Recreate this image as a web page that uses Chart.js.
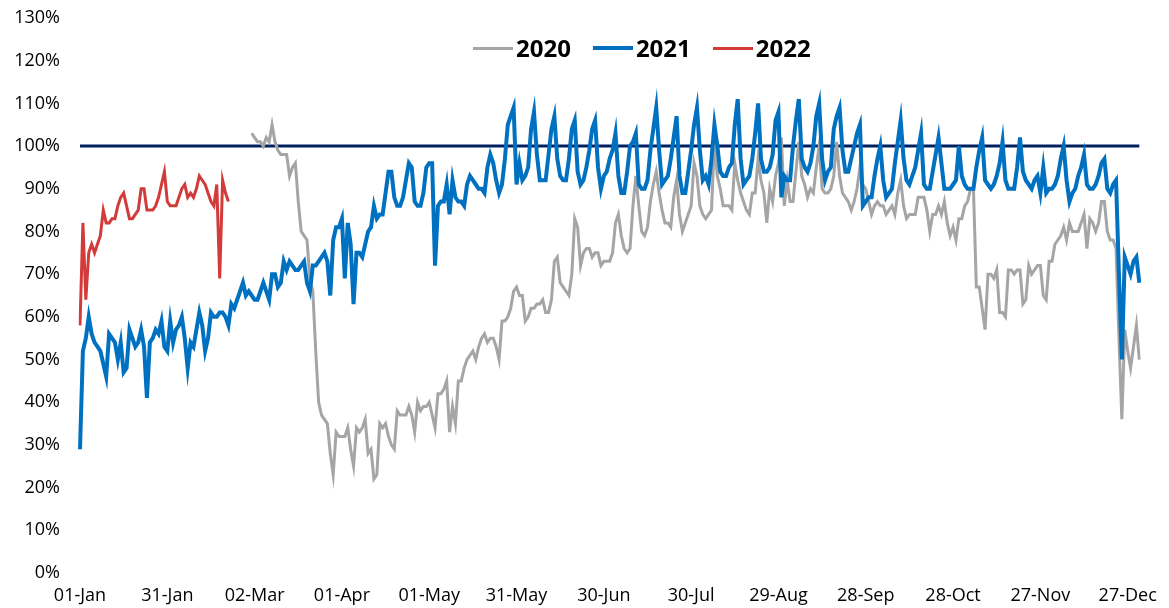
<!DOCTYPE html>
<html>
<head>
<meta charset="utf-8">
<script src="https://cdn.jsdelivr.net/npm/chart.js@4/dist/chart.umd.min.js"></script>
<style>
  body { margin: 0; background: #fff; }
  #wrap { width: 1169px; height: 608px; position: relative; }
  #legend {
    position: absolute; left: 473px; top: 33px; height: 30px;
    display: flex; align-items: center; gap: 22px;
    font: bold 24px 'Open Sans', sans-serif; color: #000; line-height: 1;
  }
  #legend .item { display: flex; align-items: center; }
  #legend .swatch { display: inline-block; width: 40px; margin-right: 3px; }
</style>
</head>
<body>
<div id="wrap"><canvas id="occChart"></canvas><div id="legend"></div></div>
<script>
// daily occupancy, % of 2019 level
const monthNames = ['Jan', 'Feb', 'Mar', 'Apr', 'May', 'Jun', 'Jul', 'Aug', 'Sep', 'Oct', 'Nov', 'Dec'];
const monthDays = [31, 28, 31, 30, 31, 30, 31, 31, 30, 31, 30, 31];
const tickLabels = ['01-Jan', '31-Jan', '02-Mar', '01-Apr', '01-May', '31-May', '30-Jun',
  '30-Jul', '29-Aug', '28-Sep', '28-Oct', '27-Nov', '27-Dec'];
const seriesNames = ['2020', '2021', '2022'];
const targetLevel = 100;

const values2020 = [
  null, null, null, null, null, null, null, null, null, null,
  null, null, null, null, null, null, null, null, null, null,
  null, null, null, null, null, null, null, null, null, null,
  null, null, null, null, null, null, null, null, null, null,
  null, null, null, null, null, null, null, null, null, null,
  null, null, null, null, null, null, null, null, null, 103,
  102, 101, 101, 100, 102, 101, 105, 101, 99, 98,
  98, 98, 93, 95, 96, 87, 80, 79, 78, 69,
  66, 52, 40, 37, 36, 35, 28, 23, 33, 32,
  32, 32, 34, 29, 25, 34, 33, 34, 36, 28,
  29, 22, 23, 35, 34, 35, 32, 30, 29, 38,
  37, 37, 37, 39, 37, 33, 40, 38, 39, 39,
  40, 37, 34, 42, 42, 43, 45, 33, 39, 35,
  45, 45, 48, 50, 51, 52, 50, 53, 55, 56,
  54, 55, 55, 53, 50, 59, 59, 60, 62, 66,
  67, 65, 65, 59, 60, 62, 62, 63, 63, 64,
  61, 61, 64, 73, 74, 68, 67, 66, 65, 70,
  83, 81, 72, 75, 76, 76, 74, 75, 75, 72,
  73, 73, 73, 75, 82, 84, 79, 76, 75, 76,
  86, 93, 86, 80, 79, 81, 87, 91, 94, 89,
  85, 82, 82, 81, 88, 92, 84, 80, 82, 84,
  86, 96, 93, 86, 84, 83, 84, 85, 101, 93,
  90, 86, 86, 86, 85, 96, 92, 89, 87, 85,
  84, 89, 89, 97, 92, 89, 82, 90, 87, 93,
  96, 102, 86, 92, 87, 87, 94, 101, 93, 91,
  88, 90, 89, 95, 100, 90, 89, 89, 90, 93,
  101, 93, 89, 88, 87, 85, 87, 90, 95, 91,
  90, 87, 84, 86, 87, 86, 86, 84, 85, 86,
  84, 89, 92, 86, 83, 84, 84, 84, 88, 88,
  88, 85, 80, 84, 84, 86, 84, 87, 82, 79,
  81, 78, 83, 83, 86, 87, 90, 90, 67, 67,
  62, 57, 70, 70, 69, 71, 61, 61, 60, 71,
  71, 70, 71, 71, 63, 64, 72, 70, 71, 72,
  72, 65, 64, 73, 73, 77, 78, 79, 81, 78,
  82, 80, 80, 80, 82, 84, 76, 83, 82, 80,
  82, 87, 87, 80, 78, 78, 76, 55, 36, 57,
  52, 48, 53, 58, 50
];

const values2021 = [
  29, 52, 55, 60, 56, 54, 53, 52, 49, 46,
  56, 55, 54, 50, 54, 47, 48, 57, 55, 53,
  54, 57, 53, 41, 54, 55, 57, 56, 59, 53,
  52, 59, 54, 57, 58, 60, 55, 48, 54, 53,
  57, 61, 58, 52, 55, 61, 60, 60, 61, 61,
  60, 58, 63, 62, 64, 66, 68, 65, 66, 65,
  64, 64, 66, 68, 66, 64, 70, 70, 67, 68,
  73, 71, 73, 72, 71, 71, 72, 73, 68, 66,
  72, 72, 73, 74, 75, 73, 65, 78, 81, 81,
  83, 69, 82, 77, 63, 75, 75, 74, 77, 80,
  81, 86, 83, 84, 84, 89, 94, 94, 88, 86,
  86, 88, 92, 96, 95, 87, 86, 86, 89, 95,
  96, 96, 72, 86, 87, 87, 91, 84, 92, 88,
  87, 87, 86, 91, 93, 92, 91, 90, 90, 89,
  95, 98, 96, 92, 89, 91, 97, 105, 107, 109,
  91, 96, 92, 93, 95, 104, 108, 98, 92, 92,
  92, 98, 104, 107, 97, 93, 92, 92, 97, 104,
  106, 94, 91, 92, 95, 99, 104, 106, 95, 90,
  93, 94, 97, 99, 103, 93, 89, 89, 94, 100,
  101, 103, 91, 90, 90, 92, 99, 104, 109, 99,
  91, 92, 93, 97, 102, 107, 93, 89, 89, 94,
  99, 105, 109, 99, 92, 93, 91, 97, 105, 100,
  94, 93, 93, 95, 96, 105, 111, 97, 91, 92,
  93, 97, 103, 110, 97, 94, 94, 95, 98, 106,
  108, 88, 93, 92, 92, 100, 106, 111, 97, 95,
  94, 96, 100, 107, 110, 97, 92, 94, 95, 104,
  107, 109, 99, 94, 94, 97, 100, 103, 105, 86,
  87, 88, 88, 93, 97, 100, 92, 88, 89, 90,
  96, 101, 106, 97, 92, 91, 93, 95, 99, 103,
  91, 90, 90, 94, 98, 102, 96, 90, 90, 90,
  91, 92, 100, 93, 91, 90, 90, 90, 95, 99,
  102, 92, 91, 90, 91, 93, 96, 101, 92, 90,
  90, 90, 95, 102, 94, 92, 91, 90, 92, 93,
  89, 95, 89, 90, 90, 91, 93, 97, 100, 92,
  87, 89, 90, 93, 95, 98, 91, 90, 90, 91,
  93, 96, 97, 90, 89, 91, 92, 70, 50, 74,
  72, 70, 73, 74, 68
];

const values2022 = [
  58, 82, 64, 75, 77, 75, 77, 79, 85, 82,
  82, 83, 83, 86, 88, 89, 86, 83, 83, 84,
  85, 90, 90, 85, 85, 85, 86, 88, 91, 94,
  87, 86, 86, 86, 88, 90, 91, 88, 89, 88,
  90, 93, 92, 91, 89, 87, 86, 91, 69, 92,
  89, 87
];

// one label per day of the year
const days = [];
monthDays.forEach((n, m) => {
  for (let d = 1; d <= n; d++) {
    days.push(String(d).padStart(2, '0') + '-' + monthNames[m]);
  }
});

// 100% reference line, drawn through the y scale
const targetLine = {
  id: 'targetLine',
  beforeDatasetsDraw(chart) {
    const { ctx, chartArea, scales } = chart;
    const y = scales.y.getPixelForValue(targetLevel);
    ctx.save();
    ctx.strokeStyle = '#002060';
    ctx.lineWidth = 3;
    ctx.beginPath();
    ctx.moveTo(chartArea.left, y);
    ctx.lineTo(chartArea.right, y);
    ctx.stroke();
    ctx.restore();
  }
};

const tickFont = { family: 'Open Sans', size: 18 };

const occChart = new Chart(document.getElementById('occChart'), {
  type: 'line',
  data: {
    labels: days,
    datasets: [{
        label: seriesNames[0],
        data: values2020,
        borderColor: '#a5a5a5',
        backgroundColor: '#a5a5a5',
        borderWidth: 3,
        order: 3
      },
      {
        label: seriesNames[1],
        data: values2021,
        borderColor: '#0070c0',
        backgroundColor: '#0070c0',
        borderWidth: 4,
        order: 2
      },
      {
        label: seriesNames[2],
        data: values2022,
        borderColor: '#d33a3a',
        backgroundColor: '#d33a3a',
        borderWidth: 3,
        order: 1
      }
    ]
  },
  options: {
    responsive: true,
    maintainAspectRatio: false,
    animation: false,
    elements: {
      point: { radius: 0 },
      line: { tension: 0 }
    },
    layout: {
      padding: { left: 0, right: 22, top: 18, bottom: 0 }
    },
    scales: {
      x: {
        grid: { display: false, drawTicks: false },
        border: { display: false },
        afterFit: s => { s.height = 35; },
        ticks: {
          autoSkip: false,
          maxRotation: 0,
          padding: 12,
          color: '#000',
          font: tickFont,
          callback: function(value) {
            const lbl = this.getLabelForValue(value);
            return tickLabels.includes(lbl) ? lbl : null;
          }
        }
      },
      y: {
        min: 0,
        max: 130,
        grid: { display: false, drawTicks: false },
        border: { display: false },
        afterFit: s => {
          s.width = 80;
          s.paddingTop = 0;
          s.paddingBottom = 0;
        },
        ticks: {
          stepSize: 10,
          padding: 20,
          color: '#000',
          font: tickFont,
          callback: v => v + '%'
        }
      }
    },
    plugins: {
      tooltip: { enabled: false },
      legend: { display: false }
    }
  },
  plugins: [targetLine]
});

// legend built from the chart's own datasets
const legendBox = document.getElementById('legend');
occChart.data.datasets.forEach(ds => {
  const item = document.createElement('div');
  item.className = 'item';
  const swatch = document.createElement('span');
  swatch.className = 'swatch';
  swatch.style.background = ds.borderColor;
  swatch.style.height = ds.borderWidth + 'px';
  const txt = document.createElement('span');
  txt.textContent = ds.label;
  item.appendChild(swatch);
  item.appendChild(txt);
  legendBox.appendChild(item);
});
</script>
</body>
</html>
